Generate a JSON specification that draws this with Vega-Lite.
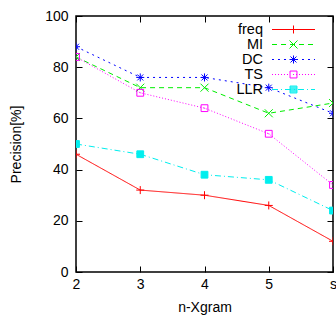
{
  "$schema": "https://vega.github.io/schema/vega-lite/v6.json",
  "width": 257,
  "height": 256,
  "autosize": {"type": "none"},
  "padding": {"left": 76, "top": 16, "right": 3, "bottom": 48},
  "background": "white",
  "config": {
    "view": {"stroke": "#000", "strokeWidth": 1.5},
    "font": "Liberation Sans",
    "axis": {"grid": false, "domain": false, "tickColor": "#000", "tickSize": -6, "tickWidth": 1, "labelFont": "Liberation Sans", "labelFontSize": 14, "labelColor": "#000", "titleFont": "Liberation Sans", "titleFontSize": 14, "titleFontWeight": "normal", "titleColor": "#000"},
    "legend": {"orient": "none", "legendX": 210, "legendY": 6, "padding": 0, "symbolSize": 185, "symbolStrokeWidth": 1, "rowPadding": 0, "labelAlign": "right", "labelOffset": -38, "labelFontSize": 14.5, "labelFont": "Liberation Sans", "labelColor": "#000", "title": null}
  },
  "data": {"values": [
    {"n": "2", "series": "freq", "v": 46}, {"n": "3", "series": "freq", "v": 32}, {"n": "4", "series": "freq", "v": 30}, {"n": "5", "series": "freq", "v": 26}, {"n": "s", "series": "freq", "v": 12},
    {"n": "2", "series": "MI", "v": 84}, {"n": "3", "series": "MI", "v": 72}, {"n": "4", "series": "MI", "v": 72}, {"n": "5", "series": "MI", "v": 62}, {"n": "s", "series": "MI", "v": 66},
    {"n": "2", "series": "DC", "v": 88}, {"n": "3", "series": "DC", "v": 76}, {"n": "4", "series": "DC", "v": 76}, {"n": "5", "series": "DC", "v": 72}, {"n": "s", "series": "DC", "v": 62},
    {"n": "2", "series": "TS", "v": 84}, {"n": "3", "series": "TS", "v": 70}, {"n": "4", "series": "TS", "v": 64}, {"n": "5", "series": "TS", "v": 54}, {"n": "s", "series": "TS", "v": 34},
    {"n": "2", "series": "LLR", "v": 50}, {"n": "3", "series": "LLR", "v": 46}, {"n": "4", "series": "LLR", "v": 38}, {"n": "5", "series": "LLR", "v": 36}, {"n": "s", "series": "LLR", "v": 24}
  ]},
  "encoding": {
    "x": {"field": "n", "type": "ordinal", "scale": {"type": "point", "padding": 0, "domain": ["2", "3", "4", "5", "s"]}},
    "y": {"field": "v", "type": "quantitative", "scale": {"domain": [0, 100], "nice": false}}
  },
  "layer": [
    {
      "mark": {"type": "line", "strokeWidth": 1, "clip": true},
      "encoding": {
        "x": {"field": "n", "type": "ordinal", "axis": {"title": "n-Xgram", "labelAngle": 0, "labelPadding": 11, "titlePadding": 9}},
        "y": {"field": "v", "type": "quantitative", "axis": {"title": "Precision[%]", "values": [0, 20, 40, 60, 80, 100], "labelPadding": 14, "titlePadding": 21}},
        "color": {
          "field": "series", "type": "nominal", "legend": null,
          "scale": {"domain": ["freq", "MI", "DC", "TS", "LLR"], "range": ["#ff0000", "#00ee00", "#0000ff", "#ff00ff", "#00eeee"]}
        },
        "strokeDash": {
          "field": "series", "type": "nominal", "legend": null,
          "scale": {"domain": ["freq", "MI", "DC", "TS", "LLR"], "range": [[1, 0], [5, 4], [2, 4], [1, 2], [6, 3, 1, 3]]}
        }
      }
    },
    {
      "mark": {"type": "point", "size": 64, "strokeWidth": 1, "opacity": 1, "clip": true},
      "encoding": {
        "x": {"field": "n", "type": "ordinal", "axis": null},
        "y": {"field": "v", "type": "quantitative", "axis": null},
        "stroke": {"field": "series", "type": "nominal", "legend": null,
          "scale": {"domain": ["freq", "MI", "DC", "TS", "LLR"], "range": ["#ff0000", "#00ee00", "#0000ff", "#ff00ff", "#00eeee"]}},
        "fill": {"field": "series", "type": "nominal", "legend": null,
          "scale": {"domain": ["freq", "MI", "DC", "TS", "LLR"], "range": ["transparent", "transparent", "transparent", "transparent", "#00eeee"]}},
        "shape": {"field": "series", "type": "nominal", "legend": null,
          "scale": {"domain": ["freq", "MI", "DC", "TS", "LLR"], "range": ["M-1,0H1M0,-1V1", "M-1,-1L1,1M-1,1L1,-1", "M0,-1V1M-1,0H1M-0.75,-0.75L0.75,0.75M-0.75,0.75L0.75,-0.75", "M-0.85,-0.85H0.85V0.85H-0.85ZM-0.12,0H0.12", "M-0.85,-0.85H0.85V0.85H-0.85Z"]}}
      }
    },
    {
      "mark": {"type": "point", "opacity": 0},
      "encoding": {
        "x": {"field": "n", "type": "ordinal", "axis": {"orient": "top", "labels": false, "title": null}},
        "y": {"field": "v", "type": "quantitative", "axis": {"orient": "right", "labels": false, "title": null, "values": [0, 20, 40, 60, 80, 100]}}
      }
    },
    {
      "transform": [{"filter": "false"}],
      "mark": {"type": "point", "strokeWidth": 1, "opacity": 1, "filled": false},
      "encoding": {
        "x": {"field": "n", "type": "ordinal", "axis": null},
        "y": {"field": "v", "type": "quantitative", "axis": null},
        "color": {"field": "series", "type": "nominal", "legend": {},
          "scale": {"domain": ["freq", "MI", "DC", "TS", "LLR"], "range": ["#ff0000", "#00ee00", "#0000ff", "#ff00ff", "#00eeee"]}},
        "shape": {"field": "series", "type": "nominal", "legend": {},
          "scale": {"domain": ["freq", "MI", "DC", "TS", "LLR"], "range": [
            "M-3.16,0H3.16M0,-0.59V0.59",
            "M-3.16,0H-2.43M-1.84,0H-1.1M-0.51,0H0.22M0.81,0H1.54M2.13,0H2.87M-0.59,-0.59L0.59,0.59M-0.59,0.59L0.59,-0.59",
            "M-3.16,0H-2.87M-2.28,0H-1.99M-1.4,0H-1.1M-0.51,0H-0.22M0.37,0H0.66M1.25,0H1.54M2.13,0H2.43M3.01,0H3.16M0,-0.59V0.59M-0.59,0H0.59M-0.44,-0.44L0.44,0.44M-0.44,0.44L0.44,-0.44",
            "M-3.16,0h0.15M-2.72,0h0.15M-2.28,0h0.15M-1.84,0h0.15M-1.4,0h0.15M-0.96,0h0.15M0.37,0h0.15M0.81,0h0.15M1.25,0h0.15M1.69,0h0.15M2.13,0h0.15M2.57,0h0.15M3.01,0h0.15M-0.51,-0.51H0.51V0.51H-0.51ZM-0.07,0h0.15",
            "M-3.16,0H-2.28M-1.84,0H-1.69M-1.25,0H-0.37M0.07,0H0.22M0.66,0H1.54M1.99,0H2.13M2.57,0H3.16M-0.51,-0.51H0.51V0.51H-0.51ZM-0.51,-0.37H0.51M-0.51,-0.22H0.51M-0.51,-0.07H0.51M-0.51,0.07H0.51M-0.51,0.22H0.51M-0.51,0.37H0.51"
          ]}}
      }
    }
  ],
  "resolve": {"axis": {"x": "independent", "y": "independent"}, "scale": {"shape": "independent", "stroke": "independent", "fill": "independent", "color": "independent"}}
}
